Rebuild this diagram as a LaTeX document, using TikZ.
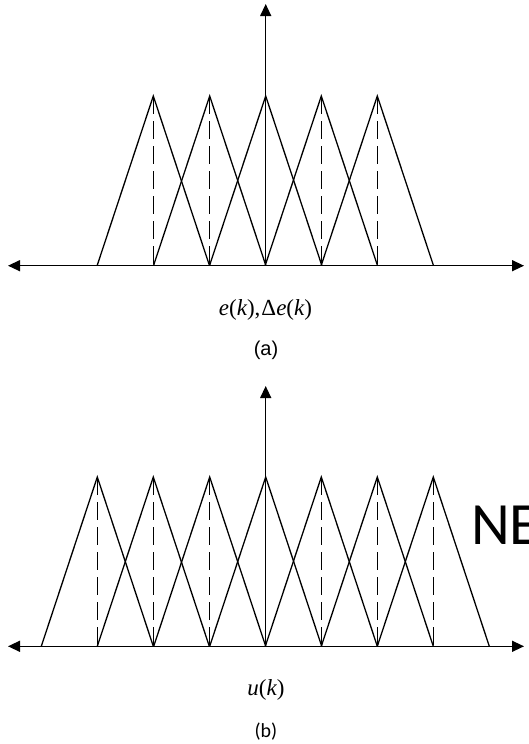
\documentclass[tikz,border=0pt]{standalone}
\usepackage{fontspec}
\newfontfamily\arialfont{Liberation Sans}
\newfontfamily\carlitofont{Carlito}
\newfontfamily\timesfont{Liberation Serif}
\usetikzlibrary{arrows.meta}
\begin{document}
\begin{tikzpicture}[x=1pt,y=-1pt,
  axis/.style={line width=1.4pt,{Triangle[length=12pt,width=11pt]}-{Triangle[length=12pt,width=11pt]}},
  vaxis/.style={line width=1.4pt,-{Triangle[length=12pt,width=11pt]}},
  tri/.style={line width=1.3pt,line join=miter},
  dsh/.style={line width=1.3pt,dash pattern=on 18pt off 7pt},
  lbl/.style={inner sep=0pt}]
\useasboundingbox (0,0) rectangle (528,744);
% ---------- (a)
\coordinate (aL) at (8,265.7);
\coordinate (aR) at (524,265.7);
\coordinate (aO) at (265.7,265.7);
\coordinate (aT) at (265.7,4);
\foreach \c in {153.3,209.7,265.7,321.3,377.3}{
  \draw[tri] (\c-56.2,265.7) -- (\c,96) -- (\c+56.2,265.7);
}
\foreach \c in {153.3,209.7,321.3,377.3}{
  \draw[dsh] (\c,96) -- (\c,265.7);
}
\draw[axis] (aL) -- (aR);
\draw[vaxis] (aO) -- (aT);
\node[lbl] (la) at (265.5,310) {\fontsize{23}{26}\timesfont\itshape e\upshape(\itshape k\upshape),\kern1pt\upshape Δ\itshape e\upshape(\itshape k\upshape)};
\node[lbl] (ca) at (266,350) {\fontsize{20}{24}\arialfont (a)};
% ---------- (b)
\coordinate (bL) at (8,646.3);
\coordinate (bR) at (524,646.3);
\coordinate (bO) at (265.7,646.3);
\coordinate (bT) at (265.7,386);
\foreach \c in {97.3,153.3,209.7,265.7,321.3,377.3,433.3}{
  \draw[tri] (\c-56,646.3) -- (\c,477) -- (\c+56,646.3);
}
\foreach \c in {97.3,153.3,209.7,321.3,377.3,433.3}{
  \draw[dsh] (\c,477) -- (\c,646.3);
}
\draw[axis] (bL) -- (bR);
\draw[vaxis] (bO) -- (bT);
\node[lbl,anchor=west] (ne) at (471,525) {\fontsize{60}{62}\carlitofont NE};
\node[lbl] (lb) at (266,690) {\fontsize{23}{26}\timesfont\itshape u\upshape(\itshape k\upshape)};
\node[lbl] (cb) at (266,732) {\fontsize{20}{24}\carlitofont (b)};
\end{tikzpicture}
\end{document}
